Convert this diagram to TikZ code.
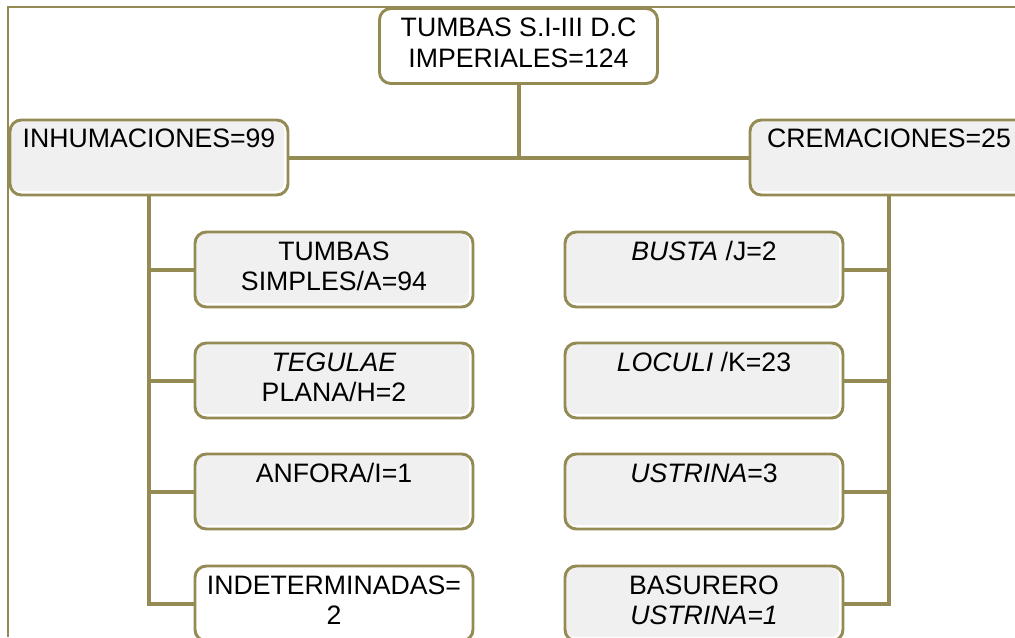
\documentclass[tikz,border=0pt]{standalone}
\usepackage{fontspec}
\setmainfont{Liberation Sans}
\definecolor{tumbaline}{RGB}{148,138,84}
\definecolor{boxgray}{RGB}{240,240,240}

\begin{document}
\begin{tikzpicture}[x=0.75pt, y=-0.75pt,
  every node/.style={font=\fontsize{20}{23}\selectfont},
  tbox/.style={draw=tumbaline, line width=2.2pt, rounded corners=8.5pt, fill=white,
    minimum width=208.5pt, minimum height=56.25pt, inner sep=0pt},
  gbox/.style={tbox, path picture={\fill[boxgray, rounded corners=6pt]
    ([xshift=1pt,yshift=-1pt]path picture bounding box.north west) rectangle
    ([xshift=-3pt,yshift=3pt]path picture bounding box.south east);}},
  tlabel/.style={anchor=north, align=center, inner sep=0pt},
  conn/.style={draw=tumbaline, line width=3pt}]
  \useasboundingbox (0,0) rectangle (1015,637);
  \clip (0,0) rectangle (1015,637);
  % outer frame
  \draw[tumbaline, line width=1.7pt] (1015,7) -| (8,637);
  % root and the two branches
  \node[tbox] (root) at (518.5,46) {};
  \node[gbox] (inh) at (149,157.5) {};
  \node[gbox] (cre) at (889,157.5) {};
  \node[tlabel] (t_root) at ([yshift=-8pt]root.north) {TUMBAS S.I-III D.C\\IMPERIALES=124};
  \node[tlabel] (t_inh) at ([yshift=-7.5pt]inh.north) {INHUMACIONES=99};
  \node[tlabel] (t_cre) at ([yshift=-7.5pt]cre.north) {CREMACIONES=25};
  % Left branch: inhumaciones
  \node[gbox] (l1) at (334,269.5) {};
  \node[gbox] (l2) at (334,380.5) {};
  \node[gbox] (l3) at (334,491.5) {};
  \node[tbox] (l4) at (334,603.5) {};
  \node[tlabel] (t_l1) at ([yshift=-8pt]l1.north) {TUMBAS\\SIMPLES/A=94};
  \node[tlabel] (t_l2) at ([yshift=-8pt]l2.north) {\textit{TEGULAE}\\PLANA/H=2};
  \node[tlabel] (t_l3) at ([yshift=-8pt]l3.north) {ANFORA/I=1};
  \node[tlabel] (t_l4) at ([yshift=-8pt]l4.north) {INDETERMINADAS=\\2};
  % Right branch: cremaciones
  \node[gbox] (r1) at (704,269.5) {};
  \node[gbox] (r2) at (704,380.5) {};
  \node[gbox] (r3) at (704,491.5) {};
  \node[gbox] (r4) at (704,603.5) {};
  \node[tlabel] (t_r1) at ([yshift=-8pt]r1.north) {\textit{BUSTA} /J=2};
  \node[tlabel] (t_r2) at ([yshift=-8pt]r2.north) {\textit{LOCULI} /K=23};
  \node[tlabel] (t_r3) at ([yshift=-8pt]r3.north) {\textit{USTRINA}=3};
  \node[tlabel] (t_r4) at ([yshift=-8pt]r4.north) {BASURERO\\\textit{USTRINA=1}};
  % connectors
  \draw[conn] (root.south) -- (root.south |- inh.east);
  \draw[conn] (inh.east) -- (cre.west);
  \draw[conn] (inh.south) |- (l4.west);
  \draw[conn] (cre.south) |- (r4.east);
  \foreach \n in {l1,l2,l3} \draw[conn] (\n.west) -- (\n.west -| inh.south);
  \foreach \n in {r1,r2,r3} \draw[conn] (\n.east) -- (\n.east -| cre.south);
\end{tikzpicture}
\end{document}
